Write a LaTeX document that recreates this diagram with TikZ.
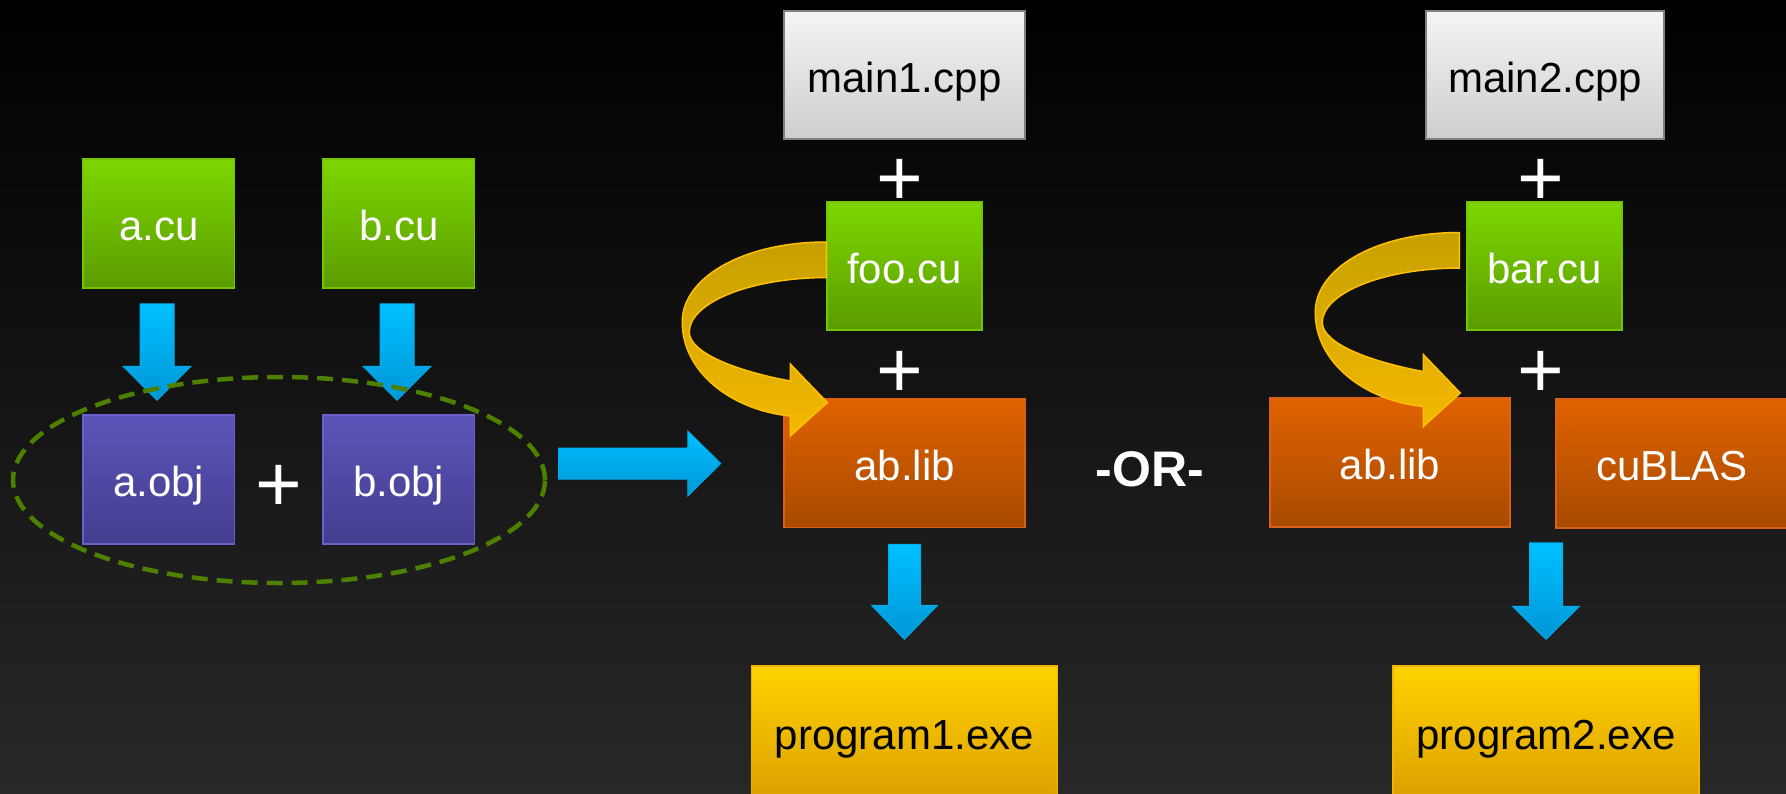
\documentclass[tikz,border=0pt]{standalone}
\usepackage{fontspec}
\setmainfont{Liberation Sans}
\usetikzlibrary{calc,shapes.geometric}

\definecolor{bgtop}{HTML}{000000}
\definecolor{bgbot}{HTML}{282828}
\definecolor{gtop}{HTML}{7ED600}
\definecolor{gbot}{HTML}{5A9C00}
\definecolor{gdraw}{HTML}{74C400}
\definecolor{ptop}{HTML}{5B55BA}
\definecolor{pbot}{HTML}{433D8E}
\definecolor{pdraw}{HTML}{6A62CA}
\definecolor{wtop}{HTML}{F4F4F4}
\definecolor{wbot}{HTML}{CECECE}
\definecolor{wdraw}{HTML}{808080}
\definecolor{otop}{HTML}{E06200}
\definecolor{obot}{HTML}{A84A00}
\definecolor{odraw}{HTML}{D8601A}
\definecolor{ytop}{HTML}{FFD300}
\definecolor{ybot}{HTML}{DCA000}
\definecolor{ydraw}{HTML}{F2B400}
\definecolor{btop}{HTML}{00C0FF}
\definecolor{bbot}{HTML}{0096D6}
\definecolor{bdraw}{HTML}{00ACEC}
\definecolor{kgtop}{HTML}{C6A000}
\definecolor{kgbot}{HTML}{F4B800}
\definecolor{kgdraw}{HTML}{FFC000}
\definecolor{ellc}{HTML}{4E8000}

\newcommand\dnarrow[5]{%
  \path[bluearrow] ($(#2|-#1)+(-#3,0)$) -- ($(#2|-#1)+(#3,0)$) -- ($(#2)+(#3,-#5)$)
    -- ($(#2)+(#4,-#5)$) -- (#2) -- ($(#2)+(-#4,-#5)$) -- ($(#2)+(-#3,-#5)$) -- cycle;}
\newcommand\rtarrow[5]{%
  \path[bluearrow] ($(#2-|#1)+(0,-#3)$) -- ($(#2)+(-#5,-#3)$) -- ($(#2)+(-#5,-#4)$)
    -- (#2) -- ($(#2)+(-#5,#4)$) -- ($(#2)+(-#5,#3)$) -- ($(#2-|#1)+(0,#3)$) -- cycle;}

\tikzset{
  box/.style={rectangle, inner sep=0pt, line width=1.5pt, font=\fontsize{42}{48}\selectfont,
    text height=43pt, text depth=8.9pt},
  greenbox/.style={box, top color=gtop, bottom color=gbot, draw=gdraw, text=white},
  purplebox/.style={box, top color=ptop, bottom color=pbot, draw=pdraw, text=white},
  greybox/.style={box, top color=wtop, bottom color=wbot, draw=wdraw, text=black},
  orangebox/.style={box, top color=otop, bottom color=obot, draw=odraw, text=white},
  yellowbox/.style={box, top color=ytop, bottom color=ybot, draw=ydraw, text=black},
  plussign/.style={inner sep=0pt, text=white, font=\fontsize{80}{84}\selectfont},
  bluearrow/.style={top color=btop, bottom color=bbot, draw=bdraw, line width=1pt, line join=miter},
  goldarrow/.style={top color=kgtop, bottom color=kgbot, draw=kgdraw, line width=1.5pt},
  groupring/.style={draw=ellc, line width=4.5pt, dash pattern=on 16pt off 9pt},
  goldloop/.pic={
    \path[goldarrow] (0,0) .. controls (-82,0) and (-144,35) .. (-144,80)
      .. controls (-144,130) and (-95,168) .. (-36,174) -- (-36,194) -- (1,160.5)
      -- (-36,122) -- (-36,139) .. controls (-85,130) and (-137,112) .. (-137,90)
      .. controls (-137,62) and (-80,36) .. (0,35.5) -- cycle;
  }
}

\begin{document}
\begin{tikzpicture}[x=1pt,y=-1pt]
\useasboundingbox (0,0) rectangle (1786,793);
\clip (0,0) rectangle (1786,793);
\shade[top color=bgtop, bottom color=bgbot] (0,0) rectangle (1786,793);

% left group
\node[greenbox, minimum width=151.5pt, minimum height=129pt] (acu) at (158.8,223.5) {a.cu};
\node[greenbox, minimum width=151.5pt, minimum height=129pt] (bcu) at (398.8,223.5) {b.cu};
\node[purplebox, minimum width=151.5pt, minimum height=129pt] (aobj) at (158.8,479.5) {a.obj};
\node[purplebox, minimum width=151.5pt, minimum height=129pt] (bobj) at (398.8,479.5) {b.obj};
\node[plussign] (p0) at (279,488) {+};

% middle column
\node[greybox, minimum width=241pt, minimum height=128pt] (main1) at (904.5,75) {main1.cpp};
\node[plussign] (p1) at (900,182) {+};
\node[greenbox, minimum width=155pt, minimum height=128pt] (foo) at (904.5,266) {foo.cu};
\node[plussign] (p2) at (900,374) {+};
\node[orangebox, minimum width=241pt, minimum height=129pt] (ablib1) at (904.5,463) {ab.lib};
\node[yellowbox, minimum width=306pt, minimum height=132pt] (prog1) at (904.5,732) {program1.exe};

\node[text=white, font=\bfseries\fontsize{50}{58}\selectfont, inner sep=0pt] (or) at (1150,469) {-OR-};

% right column
\node[greybox, minimum width=238pt, minimum height=128pt] (main2) at (1545,75) {main2.cpp};
\node[plussign] (p3) at (1541,182) {+};
\node[greenbox, minimum width=155pt, minimum height=128pt] (bar) at (1544.5,266) {bar.cu};
\node[plussign] (p4) at (1541,374) {+};
\node[orangebox, minimum width=240pt, minimum height=129pt] (ablib2) at (1390,462.5) {ab.lib};
\node[orangebox, minimum width=232pt, minimum height=129pt] (cublas) at (1672,463.5) {cuBLAS};
\node[yellowbox, minimum width=306pt, minimum height=132pt] (prog2) at (1546,732) {program2.exe};

% group ellipse node
\path (279,480) node[ellipse, minimum width=532pt, minimum height=206pt, inner sep=0pt] (grp) {};

% blue block arrows
\coordinate (aT) at ($(acu.south)+(0,15)$);
\coordinate (aH) at ($(aobj.north)+(-1.8,-14)$);
\dnarrow{aT}{aH}{17}{34}{34}
\coordinate (bT) at ($(bcu.south)+(0,15)$);
\coordinate (bH) at ($(bobj.north)+(-1.8,-14)$);
\dnarrow{bT}{bH}{17}{34}{34}
\coordinate (cT) at ($(ablib1.south)+(0,16)$);
\coordinate (cH) at ($(prog1.north)+(0,-26)$);
\dnarrow{cT}{cH}{16}{33}{34}
\coordinate (dT) at ($(ablib2.south)+(0,15)$);
\coordinate (dH) at ($(prog2.north)+(0,-26)$);
\dnarrow{dT}{dH}{16.5}{33.5}{33}
\coordinate (eT) at ($(grp.east)+(13.5,-16.5)$);
\coordinate (eH) at ($(ablib1.west)+(-62.5,0.5)$);
\rtarrow{eT}{eH}{15.5}{32.5}{33}

\draw[groupring] (grp.center) ellipse [x radius=266pt, y radius=103pt];

% gold loop arrows
\pic at ($(foo.west)+(0,-24)$) {goldloop};
\pic at ($(bar.west)+(-7,-33.5)$) {goldloop};
\end{tikzpicture}
\end{document}
